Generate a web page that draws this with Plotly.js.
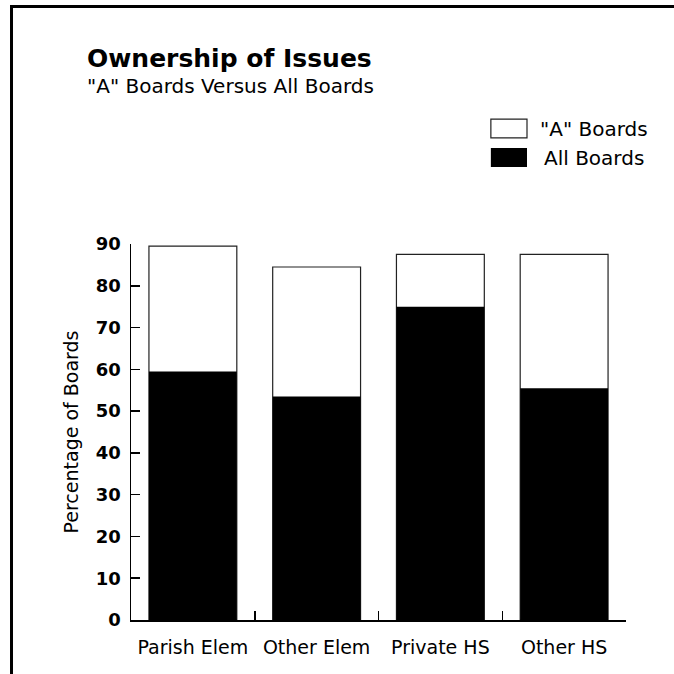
<!DOCTYPE html>
<html>
<head>
<meta charset="utf-8">
<script src="https://cdn.plot.ly/plotly-3.0.1.min.js"></script>
<style>
  html, body { margin: 0; padding: 0; background: #fff; overflow: hidden; }
  #chart { width: 674px; height: 674px; }
</style>
</head>
<body>
<div id="chart"></div>
<script>
// ---- data ----
const categories = ["Parish Elem", "Other Elem", "Private HS", "Other HS"];
const seriesNames = ["\"A\" Boards", "All Boards"];
const aBoards = [89.5, 84.5, 87.5, 87.5];
const allBoards = [59.5, 53.5, 75, 55.5];
const yTicks = [0, 10, 20, 30, 40, 50, 60, 70, 80, 90];
const titleText = "Ownership of Issues";
const subtitleText = "\"A\" Boards Versus All Boards";

const FONT = "DejaVu Sans, Arial, sans-serif";

const traces = [
  {
    type: "bar", name: seriesNames[0], x: categories, y: aBoards, width: 0.71,
    marker: { color: "#ffffff", line: { color: "#222", width: 1.2 } },
    showlegend: false, hoverinfo: "skip"
  },
  {
    type: "bar", name: seriesNames[1], x: categories, y: allBoards, width: 0.71,
    marker: { color: "#000000", line: { color: "#000", width: 0 } },
    showlegend: false, hoverinfo: "skip"
  }
];

// page frame (top and left rules) + legend, in paper coordinates
const shapes = [
  { type: "line", xref: "paper", yref: "paper", x0: -0.2414, x1: 1.10, y0: 1.6317, y1: 1.6317,
    line: { color: "#000", width: 3 } },
  { type: "line", xref: "paper", yref: "paper", x0: -0.2414, x1: -0.2414, y0: 1.6357, y1: -0.15,
    line: { color: "#000", width: 3 } },
  { type: "rect", xref: "paper", yref: "paper", x0: 0.727, x1: 0.800, y0: 1.282, y1: 1.332,
    line: { color: "#222", width: 1.2 }, fillcolor: "#ffffff" },
  { type: "rect", xref: "paper", yref: "paper", x0: 0.727, x1: 0.800, y0: 1.205, y1: 1.255,
    line: { color: "#000", width: 0 }, fillcolor: "#000000" }
];
const annotations = [
  { xref: "paper", yref: "paper", x: 0.822, y: 1.307, xanchor: "left", yanchor: "middle",
    text: seriesNames[0], showarrow: false, font: { family: FONT, size: 20, color: "#000" } },
  { xref: "paper", yref: "paper", x: 0.830, y: 1.230, xanchor: "left", yanchor: "middle",
    text: seriesNames[1], showarrow: false, font: { family: FONT, size: 20, color: "#000" } },
  { xref: "paper", yref: "paper", x: -0.093, y: 1.420, xanchor: "left", yanchor: "middle",
    text: subtitleText, showarrow: false, font: { family: FONT, size: 20, color: "#000" } }
];

const layout = {
  width: 674, height: 674,
  margin: { l: 131, r: 48, t: 244, b: 54 },
  paper_bgcolor: "#ffffff", plot_bgcolor: "#ffffff",
  barmode: "overlay",
  title: {
    text: "<b>" + titleText + "</b>",
    font: { family: FONT, size: 25, color: "#000" },
    xref: "container", yref: "container",
    x: 87 / 674, xanchor: "left",
    y: 1 - 58 / 674, yanchor: "middle"
  },
  xaxis: {
    type: "category",
    categoryorder: "array", categoryarray: categories,
    range: [-0.5, 3.5],
    showline: true, linecolor: "#000", linewidth: 1.5,
    ticks: "inside", tickson: "boundaries", ticklen: 9, tickwidth: 1.5, tickcolor: "#000",
    showgrid: false, zeroline: false,
    tickfont: { family: FONT, size: 19, color: "#000" },
    ticklabelstandoff: 10
  },
  yaxis: {
    range: [0, 90],
    tickmode: "array", tickvals: yTicks, ticktext: yTicks.map(String),
    showline: true, linecolor: "#000", linewidth: 1.5,
    ticks: "inside", ticklen: 9, tickwidth: 1.5, tickcolor: "#000",
    showgrid: false, zeroline: false,
    tickfont: { family: FONT, size: 18, color: "#000", weight: "bold" },
    ticklabelstandoff: 5,
    title: { text: "Percentage of Boards", font: { family: FONT, size: 19, color: "#000" }, standoff: 12 }
  },
  shapes: shapes,
  annotations: annotations,
  showlegend: false
};

Plotly.newPlot("chart", traces, layout, { displayModeBar: false, staticPlot: true });
</script>
</body>
</html>
